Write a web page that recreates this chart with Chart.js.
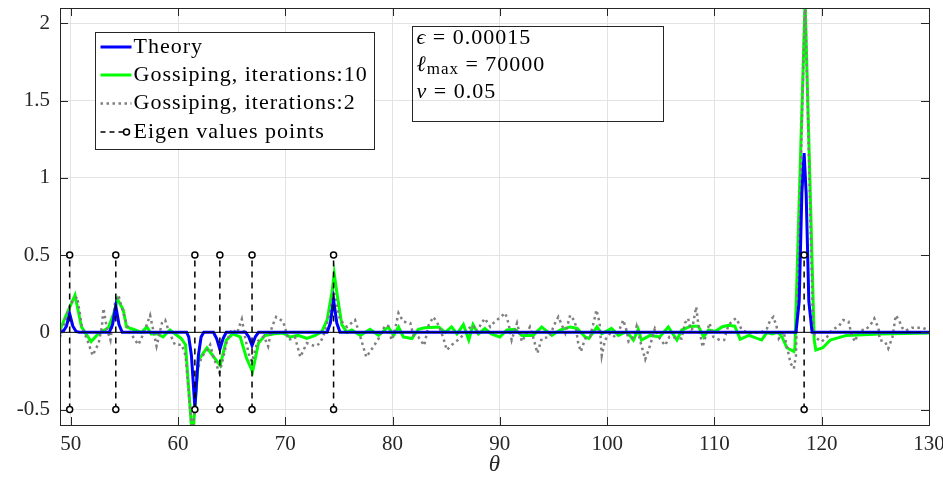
<!DOCTYPE html>
<html>
<head>
<meta charset="utf-8">
<script src="https://cdn.jsdelivr.net/npm/chart.js@4.4.1/dist/chart.umd.min.js"></script>
<style>
  body { margin: 0; background: #fff; }
  #wrap { width: 943px; height: 482px; position: relative; }
</style>
</head>
<body>
<div id="wrap"><canvas id="spectrum"></canvas></div>
<script>
// theory curve (narrow peaks at the eigen values)
var theoryTheta = [49, 49.3, 49.6, 49.9, 50.2, 50.5, 50.8,
  53.6, 53.9, 54.2, 54.5, 54.8,
  60.8, 61.0, 61.25, 61.57, 61.9, 62.15, 62.4,
  63.3, 63.6, 63.9, 64.2, 64.5,
  66.3, 66.6, 66.9, 67.2, 67.5,
  73.9, 74.2, 74.5, 74.8, 75.1,
  117.6, 117.9, 118.15, 118.36, 118.55, 118.8, 119.1, 130];
var theoryVal = [0, 0.005, 0.04, 0.12, 0.04, 0.005, 0,
  0, 0.05, 0.17, 0.05, 0,
  0, -0.03, -0.15, -0.485, -0.15, -0.03, 0,
  0, -0.04, -0.11, -0.04, 0,
  0, -0.03, -0.085, -0.03, 0,
  0, 0.06, 0.21, 0.06, 0,
  0, 0.2, 0.9, 1.16, 0.9, 0.2, 0, 0];

// gossiping, 10 iterations
var goss10Theta = [49.0, 49.45, 50.4, 51.0, 51.9, 52.55, 53.5, 54.0, 54.36, 54.9, 55.2, 56.0, 56.6, 57.1, 57.5, 58.1,
  58.6, 59.25, 60.3, 60.7, 61.35, 61.9, 62.7, 63.45, 63.93, 64.5, 65.1, 65.8, 66.4, 66.95, 67.5, 68.1,
  69.0, 69.8, 70.45, 71.2, 72.0, 72.8, 73.4, 73.9, 74.35, 74.56, 74.8, 75.27, 75.74, 76.2, 77.0, 77.9,
  78.7, 79.6, 80.1, 80.55, 81.0, 81.8, 82.4, 83.0, 84.3, 84.9, 85.5, 86.0, 86.6, 87.1, 87.5, 88.0,
  88.6, 89.2, 90.0, 90.65, 91.4, 92.05, 93.1, 93.9, 94.85, 95.6, 96.55, 97.2, 97.95, 98.3, 99.05, 99.5,
  100.4, 101.05, 101.8, 102.45, 102.9, 103.2, 104.0, 104.9, 105.7, 106.5, 106.95, 107.8, 108.5, 109.0, 109.45, 110.05,
  110.7, 111.3, 111.9, 112.4, 113.2, 114.4, 114.9, 115.35, 115.95, 116.3, 116.75, 117.4, 117.5, 118.45, 119.3, 119.45,
  120.1, 120.8, 122.3, 125.4, 130.0];
var goss10Val = [0.015, 0.09, 0.24, 0.035, -0.06, -0.01, 0.03, 0.12, 0.215, 0.145, 0.035, 0.015, 0.0, 0.035, -0.01, -0.01,
  -0.03, 0.015, -0.04, -0.08, -0.7, -0.18, -0.1, -0.17, -0.215, -0.05, -0.01, -0.03, -0.17, -0.255, -0.07, -0.02,
  -0.01, -0.005, -0.03, -0.02, -0.04, -0.02, 0.005, 0.08, 0.26, 0.38, 0.26, 0.05, 0.0, 0.015, -0.02, 0.02,
  -0.02, 0.035, -0.02, 0.035, -0.03, -0.04, 0.02, 0.03, 0.035, 0.0, 0.035, -0.01, 0.05, -0.05, 0.05, -0.01,
  0.025, -0.01, -0.03, 0.015, 0.02, -0.02, -0.02, 0.035, -0.02, 0.015, 0.035, 0.025, -0.03, -0.04, 0.035, -0.01,
  0.025, -0.02, 0.005, -0.05, 0.02, -0.05, -0.02, -0.03, 0.035, -0.05, 0.015, 0.04, 0.04, -0.03, 0.015, 0.005,
  0.035, 0.045, 0.04, -0.045, -0.02, -0.05, 0.0, -0.01, 0.0, -0.03, -0.1, -0.125, -0.1, 2.15, -0.05, -0.115,
  -0.1, -0.05, -0.02, -0.01, -0.005];

// gossiping, 2 iterations
var goss2Theta = [49.0, 49.5, 50.0, 50.6, 51.05, 51.65, 52.05, 52.6, 52.9, 53.05, 53.4, 53.7, 54.15, 54.45, 54.9, 55.4,
  56.0, 56.3, 56.8, 57.4, 58.0, 58.5, 58.8, 59.1, 59.7, 60.35, 60.7, 61.35, 61.8, 62.2, 62.7, 63.0,
  63.3, 63.85, 64.1, 64.55, 65.0, 65.5, 65.95, 66.3, 66.7, 66.9, 67.4, 68.0, 68.4, 68.75, 69.15, 69.8,
  70.3, 70.9, 71.4, 72.0, 72.8, 73.25, 73.7, 74.2, 74.5, 75.1, 75.75, 76.5, 77.0, 77.55, 78.1, 78.7,
  79.3, 79.6, 79.9, 80.25, 80.55, 81.0, 81.65, 81.95, 82.4, 82.95, 83.35, 83.8, 84.3, 84.75, 85.05, 85.7,
  86.3, 86.9, 87.5, 87.85, 88.3, 88.6, 89.1, 89.4, 90.5, 90.8, 91.1, 91.6, 92.05, 92.5, 92.8, 93.1,
  93.5, 93.9, 94.6, 95.15, 95.45, 95.7, 96.1, 96.55, 97.0, 97.3, 97.55, 97.95, 98.4, 98.8, 99.0, 99.3,
  99.5, 99.8, 100.3, 100.75, 101.05, 101.5, 101.8, 102.0, 102.45, 102.75, 103.1, 103.55, 104.0, 104.45, 104.9, 105.4,
  105.8, 106.3, 106.95, 107.25, 107.55, 107.85, 108.3, 108.5, 108.9, 109.3, 109.55, 109.9, 110.5, 110.9, 111.3, 111.75,
  112.05, 112.55, 113.2, 114.4, 114.9, 115.2, 115.5, 115.8, 116.0, 116.45, 116.75, 117.1, 117.4, 117.6, 118.45, 119.2,
  119.55, 120.0, 120.5, 120.95, 121.6, 122.0, 122.5, 122.8, 123.1, 123.5, 124.1, 124.65, 124.9, 125.3, 125.4, 125.9,
  126.2, 126.6, 126.9, 127.2, 127.5, 127.8, 128.4, 128.9, 129.4, 129.9];
var goss2Val = [-0.03, 0.08, 0.19, 0.23, 0.035, -0.07, -0.15, -0.07, 0.035, 0.155, 0.015, -0.05, 0.2, 0.24, 0.125, 0.015,
  -0.05, -0.08, -0.005, 0.11, -0.09, 0.06, 0.08, 0.015, -0.08, -0.08, -0.15, -0.68, -0.245, -0.16, -0.115, -0.08,
  -0.16, -0.26, -0.2, -0.06, 0.02, -0.005, 0.085, -0.05, -0.17, -0.19, -0.06, -0.025, -0.09, 0.035, 0.1, 0.07,
  -0.05, -0.03, -0.16, -0.07, -0.09, -0.07, 0.005, 0.145, 0.27, 0.08, 0.035, 0.08, -0.03, -0.16, -0.105, -0.04,
  0.045, 0.04, -0.05, 0.025, 0.125, 0.07, 0.06, -0.02, -0.03, -0.085, 0.045, 0.1, 0.045, -0.04, -0.115, -0.07,
  -0.04, 0.015, 0.045, 0.005, 0.06, 0.09, 0.035, 0.06, 0.125, 0.06, -0.05, 0.06, -0.06, -0.005, 0.035, -0.03,
  -0.135, -0.04, -0.03, 0.06, 0.1, 0.06, -0.005, 0.11, 0.07, -0.07, -0.125, -0.04, -0.03, 0.08, 0.145, 0.06,
  -0.15, -0.05, -0.005, -0.03, 0.0, 0.08, 0.015, -0.06, -0.03, 0.04, -0.06, -0.175, -0.085, 0.025, -0.04, -0.085,
  -0.03, -0.035, -0.04, 0.06, 0.09, -0.005, 0.165, 0.05, -0.095, 0.005, 0.06, -0.03, -0.05, -0.05, 0.045, 0.08,
  0.09, 0.015, -0.005, 0.0, 0.025, 0.08, 0.1, 0.035, -0.04, 0.005, -0.09, -0.2, -0.235, -0.15, 2.15, 0.0,
  -0.04, -0.06, -0.03, 0.015, 0.04, 0.08, 0.07, -0.02, -0.06, 0.015, 0.015, 0.06, 0.09, 0.025, -0.05, -0.06,
  -0.105, -0.03, 0.11, 0.08, 0.03, 0.01, 0.03, 0.03, 0.03, 0.015];

// eigen value markers
var eigenTheta = [49.9, 54.2, 61.57, 63.9, 66.9, 74.5, 118.36];
var eigenLow = -0.5;
var eigenHigh = 0.5;

var xTicks = [50, 60, 70, 80, 90, 100, 110, 120, 130];
var yTicks = [-0.5, 0, 0.5, 1, 1.5, 2];

var legendLabels = ['Theory', 'Gossiping, iterations:10', 'Gossiping, iterations:2', 'Eigen values points'];

var serif = '"Liberation Serif", "Times New Roman", serif';
var axisColor = '#262626';

function toPoints(xs, ys) {
  var pts = [];
  for (var i = 0; i < xs.length; i++) {
    pts.push({ x: xs[i], y: ys[i] });
  }
  return pts;
}

var eigenPoints = [];
for (var i = 0; i < eigenTheta.length; i++) {
  eigenPoints.push({ x: eigenTheta[i], y: eigenLow });
  eigenPoints.push({ x: eigenTheta[i], y: eigenHigh });
  eigenPoints.push({ x: eigenTheta[i], y: null });
}

// draws text pieces one after the other, each with its own font
function drawRun(ctx, x, y, parts) {
  for (var i = 0; i < parts.length; i++) {
    ctx.font = parts[i].font;
    ctx.fillText(parts[i].text, x, y + (parts[i].dy || 0));
    x += ctx.measureText(parts[i].text).width;
  }
}

// MATLAB style box, inward ticks, legend and text box
var matlabBits = {
  id: 'matlabBits',
  afterDatasetsDraw: function(chart) {
    var ctx = chart.ctx,
        area = chart.chartArea,
        xs = chart.scales.x,
        ys = chart.scales.y;

    ctx.save();
    ctx.strokeStyle = axisColor;
    ctx.lineWidth = 1;
    ctx.beginPath();
    xTicks.forEach(function(v) {
      var px = Math.round(xs.getPixelForValue(v)) + 0.5;
      ctx.moveTo(px, area.bottom); ctx.lineTo(px, area.bottom - 8);
      ctx.moveTo(px, area.top); ctx.lineTo(px, area.top + 8);
    });
    yTicks.forEach(function(v) {
      var py = Math.round(ys.getPixelForValue(v)) + 0.5;
      ctx.moveTo(area.left, py); ctx.lineTo(area.left + 8, py);
      ctx.moveTo(area.right, py); ctx.lineTo(area.right - 8, py);
    });
    ctx.stroke();
    ctx.strokeRect(Math.round(area.left) + 0.5, Math.round(area.top) + 0.5,
      Math.round(area.right - area.left), Math.round(area.bottom - area.top));

    // legend
    var lx = Math.round(area.left) + 35.5,
        ly = Math.round(area.top) + 24.5,
        lw = 279,
        lh = 117;
    ctx.fillStyle = '#fff';
    ctx.fillRect(lx, ly, lw, lh);
    ctx.strokeStyle = axisColor;
    ctx.strokeRect(lx, ly, lw, lh);

    var rowY = [ly + 14.5, ly + 42.5, ly + 71, ly + 99.5];
    var x0 = lx + 5, x1 = lx + 36;

    ctx.lineWidth = 3;
    ctx.strokeStyle = '#0000ff';
    ctx.beginPath(); ctx.moveTo(x0, rowY[0]); ctx.lineTo(x1, rowY[0]); ctx.stroke();
    ctx.strokeStyle = '#00ff00';
    ctx.beginPath(); ctx.moveTo(x0, rowY[1]); ctx.lineTo(x1, rowY[1]); ctx.stroke();
    ctx.lineWidth = 2.5;
    ctx.strokeStyle = '#7f7f7f';
    ctx.setLineDash([2.5, 3.5]);
    ctx.beginPath(); ctx.moveTo(x0, rowY[2]); ctx.lineTo(x1, rowY[2]); ctx.stroke();
    ctx.lineWidth = 1.5;
    ctx.strokeStyle = '#000';
    ctx.setLineDash([5, 4]);
    ctx.beginPath(); ctx.moveTo(x0, rowY[3]); ctx.lineTo(x1 - 8, rowY[3]); ctx.stroke();
    ctx.setLineDash([]);
    ctx.fillStyle = '#fff';
    ctx.beginPath(); ctx.arc(x1 - 5, rowY[3], 3, 0, Math.PI * 2); ctx.fill(); ctx.stroke();

    ctx.fillStyle = '#000';
    ctx.letterSpacing = '1px';
    ctx.font = '22px ' + serif;
    ctx.textBaseline = 'middle';
    ctx.textAlign = 'left';
    for (var i = 0; i < legendLabels.length; i++) {
      ctx.fillText(legendLabels[i], x1 + 2, rowY[i]);
    }

    // parameter text box
    var tx = Math.round(area.left) + 352.5,
        ty = Math.round(area.top) + 18.5;
    ctx.strokeStyle = axisColor;
    ctx.lineWidth = 1;
    ctx.strokeRect(tx, ty, 251, 95);

    var reg = '22px ' + serif, ital = 'italic 22px ' + serif;
    drawRun(ctx, tx + 4, ty + 12, [{ text: '\u03f5', font: ital }, { text: ' = 0.00015', font: reg }]);
    drawRun(ctx, tx + 4, ty + 39, [{ text: '\u2113', font: ital }, { text: 'max', font: '17px ' + serif, dy: 4 }, { text: ' = 70000', font: reg }]);
    drawRun(ctx, tx + 4, ty + 66, [{ text: 'v', font: ital }, { text: ' = 0.05', font: reg }]);

    ctx.restore();
  }
};

var chart = new Chart(document.getElementById('spectrum').getContext('2d'), {
  type: 'line',
  data: {
    datasets: [{
      label: legendLabels[3],
      data: eigenPoints,
      borderColor: '#000',
      borderWidth: 1.5,
      borderDash: [6, 5],
      pointRadius: function(c) { return c.raw && c.raw.y !== null ? 3 : 0; },
      pointBackgroundColor: '#fff',
      pointBorderColor: '#000',
      pointBorderWidth: 1.5,
      spanGaps: false,
      order: 0
    }, {
      label: 'zero',
      data: toPoints([49, 130], [0, 0]),
      borderColor: '#000',
      borderWidth: 1,
      pointRadius: 0,
      order: 1
    }, {
      label: legendLabels[0],
      data: toPoints(theoryTheta, theoryVal),
      borderColor: '#0000ff',
      borderWidth: 3,
      pointRadius: 0,
      order: 2
    }, {
      label: legendLabels[2],
      data: toPoints(goss2Theta, goss2Val),
      borderColor: '#7f7f7f',
      borderWidth: 2.5,
      borderDash: [2.5, 3.5],
      pointRadius: 0,
      order: 3
    }, {
      label: legendLabels[1],
      data: toPoints(goss10Theta, goss10Val),
      borderColor: '#00ff00',
      borderWidth: 3,
      pointRadius: 0,
      order: 4
    }]
  },
  options: {
    responsive: true,
    maintainAspectRatio: false,
    animation: false,
    layout: { padding: { top: 8, right: 14, left: 0, bottom: 0 } },
    plugins: {
      legend: { display: false },
      tooltip: { enabled: false }
    },
    elements: { line: { tension: 0 } },
    scales: {
      x: {
        type: 'linear',
        min: 49,
        max: 130,
        afterBuildTicks: function(s) { s.ticks = xTicks.map(function(v) { return { value: v }; }); },
        afterFit: function(s) { s.height = 57; s.paddingLeft = 0; s.paddingRight = 0; },
        grid: { color: '#e3e3e3', drawTicks: false },
        border: { display: false },
        ticks: { color: axisColor, padding: 7, font: { family: serif, size: 21 }, maxRotation: 0 },
        title: { display: true, text: '\u03b8', color: axisColor, font: { family: serif, size: 23, style: 'italic' }, padding: { top: 0, bottom: 3 } }
      },
      y: {
        type: 'linear',
        min: -0.6,
        max: 2.1,
        afterBuildTicks: function(s) { s.ticks = yTicks.map(function(v) { return { value: v }; }); },
        afterFit: function(s) { s.width = 60; s.paddingTop = 0; s.paddingBottom = 0; },
        grid: { color: '#e3e3e3', drawTicks: false },
        border: { display: false },
        ticks: {
          color: axisColor,
          padding: 10,
          font: { family: serif, size: 21 },
          callback: function(v) { return String(v); }
        }
      }
    }
  },
  plugins: [matlabBits]
});
</script>
</body>
</html>
